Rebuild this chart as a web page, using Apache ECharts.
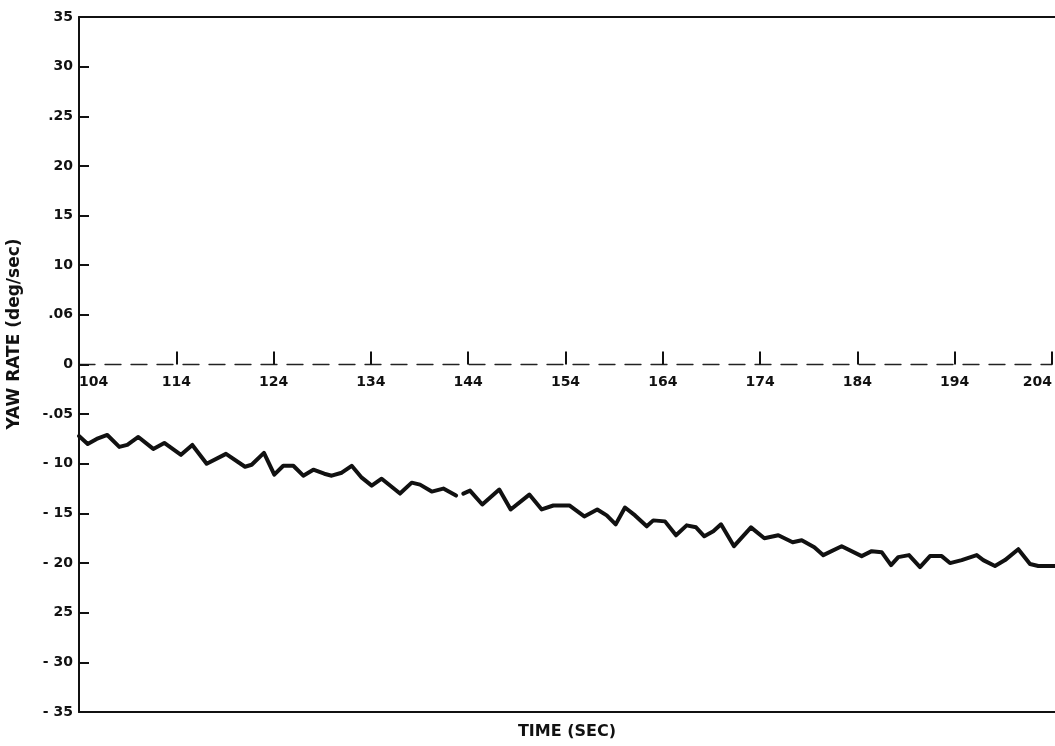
<!DOCTYPE html>
<html>
<head>
<meta charset="utf-8">
<script src="https://cdn.jsdelivr.net/npm/echarts@6/dist/echarts.min.js"></script>
<style>
  html, body { margin: 0; padding: 0; background: #fff; }
  #chart { width: 1055px; height: 746px; }
</style>
</head>
<body>
<div id="chart"></div>
<script>
// Yaw rate trace, time in seconds vs deg/sec
const timeSec = [
  104.0, 104.89, 105.81, 106.90, 108.13, 108.95, 110.08, 111.61, 112.74, 114.45,
  115.61, 117.08, 119.06, 121.01, 121.69, 122.95, 124.01, 124.93, 125.96, 126.98,
  128.01, 129.13, 129.89, 130.92, 131.94, 132.97, 133.99, 135.01, 136.89, 138.09,
  138.94, 140.14, 141.33, 142.63, 143.0, 143.38, 144.06, 145.32, 147.06, 148.23,
  150.14, 151.41, 152.60, 154.24, 155.77, 157.10, 158.07, 158.99, 159.94, 160.97,
  162.17, 162.84, 164.04, 165.17, 166.26, 167.22, 168.07, 168.99, 169.78, 171.11,
  172.85, 174.22, 175.65, 177.12, 178.05, 179.34, 180.26, 182.14, 184.19, 185.22,
  186.24, 187.20, 187.94, 189.04, 190.17, 191.19, 192.39, 193.24, 194.44, 195.98,
  196.65, 197.85, 198.88, 200.24, 201.44, 202.29, 204.0
];
const yawRate = [
  -0.072, -0.080, -0.075, -0.071, -0.083, -0.081, -0.073, -0.085, -0.079, -0.091,
  -0.081, -0.100, -0.090, -0.103, -0.101, -0.089, -0.111, -0.102, -0.102, -0.112,
  -0.106, -0.110, -0.112, -0.109, -0.102, -0.114, -0.122, -0.115, -0.130, -0.119,
  -0.121, -0.128, -0.125, -0.132, null, -0.130, -0.127, -0.141, -0.126, -0.146,
  -0.131, -0.146, -0.142, -0.142, -0.153, -0.146, -0.152, -0.161, -0.144, -0.152,
  -0.163, -0.157, -0.158, -0.172, -0.162, -0.164, -0.173, -0.168, -0.161, -0.183,
  -0.164, -0.175, -0.172, -0.179, -0.177, -0.184, -0.192, -0.183, -0.193, -0.188,
  -0.189, -0.202, -0.194, -0.192, -0.204, -0.193, -0.193, -0.200, -0.197, -0.192,
  -0.197, -0.203, -0.197, -0.186, -0.201, -0.203, -0.203
];
// Y tick labels, top to bottom (0.35 ... -0.35)
const yTickLabels = [
  '35', '30', '.25', '20', '15', '10', '.06', '0',
  '-.05', '- 10', '- 15', '- 20', '25', '- 30', '- 35'
];
const xTickStart = 104;
const xTickEnd = 204;
const xTickStep = 10;
const yLimit = 0.35;
const yStep = 0.05;

const ink = '#111';
const font = 'DejaVu Sans';
const W = 1055, H = 746;
const plot = { left: 79, right: 0, top: 17, bottom: 34 };
const plotH = H - plot.top - plot.bottom;
// upper half of the plot: its lower edge is the zero line, where the time axis sits
const upperHalf = { left: plot.left, right: plot.right, top: plot.top, height: plotH / 2 };

const chart = echarts.init(document.getElementById('chart'), null, { renderer: 'canvas' });

const yLabel = v => {
  const i = Math.round((yLimit - v) / yStep);
  return yTickLabels[i] !== undefined ? yTickLabels[i] : '';
};

chart.setOption({
  animation: false,
  backgroundColor: '#fff',
  grid: [
    Object.assign({ containLabel: false }, plot),
    Object.assign({ containLabel: false }, upperHalf)
  ],
  xAxis: [
    { // bottom frame with axis title
      type: 'value', gridIndex: 0, position: 'bottom',
      min: xTickStart, max: xTickEnd, interval: xTickStep,
      axisLine: { show: true, onZero: false, lineStyle: { color: ink, width: 2 } },
      axisTick: { show: false }, axisLabel: { show: false }, splitLine: { show: false },
      name: 'TIME (SEC)', nameLocation: 'middle', nameGap: 12,
      nameTextStyle: { color: ink, fontFamily: font, fontWeight: 'bold', fontSize: 16 }
    },
    { // top frame
      type: 'value', gridIndex: 0, position: 'top',
      min: xTickStart, max: xTickEnd, interval: xTickStep,
      axisLine: { show: true, onZero: false, lineStyle: { color: ink, width: 2 } },
      axisTick: { show: false }, axisLabel: { show: false }, splitLine: { show: false }
    },
    { // time axis along the zero line
      type: 'value', gridIndex: 1, position: 'bottom',
      min: xTickStart, max: xTickEnd, interval: xTickStep,
      axisLine: { show: true, onZero: false, lineStyle: { color: '#222', width: 1.3, type: [16, 10] } },
      axisTick: { show: true, inside: true, length: 13, lineStyle: { color: ink, width: 2 } },
      axisLabel: {
        show: true, margin: 11, color: ink, fontFamily: font, fontWeight: 'bold', fontSize: 14,
        alignMinLabel: 'left', alignMaxLabel: 'right'
      },
      splitLine: { show: false }
    }
  ],
  yAxis: [
    {
      type: 'value', gridIndex: 0, min: -yLimit, max: yLimit, interval: yStep,
      axisLine: { show: true, onZero: false, lineStyle: { color: ink, width: 2 } },
      axisTick: { show: true, inside: true, length: 10, lineStyle: { color: ink, width: 2 } },
      axisLabel: {
        show: true, margin: 6, color: ink, fontFamily: font, fontWeight: 'bold', fontSize: 14,
        formatter: yLabel
      },
      splitLine: { show: false }
    },
    {
      type: 'value', gridIndex: 1, min: 0, max: yLimit, show: false
    }
  ],
  graphic: [
    {
      type: 'text', x: 15, y: 334, rotation: Math.PI / 2,
      style: {
        text: 'YAW RATE (deg/sec)', fill: ink,
        font: 'bold 17px "DejaVu Sans"', align: 'center', verticalAlign: 'middle'
      },
      silent: true
    }
  ],
  series: [
    {
      type: 'line', xAxisIndex: 0, yAxisIndex: 0,
      data: timeSec.map((t, i) => [t, yawRate[i]]),
      showSymbol: false, connectNulls: false,
      lineStyle: { color: ink, width: 4, join: 'round', cap: 'round' },
      silent: true
    }
  ]
});
</script>
</body>
</html>
